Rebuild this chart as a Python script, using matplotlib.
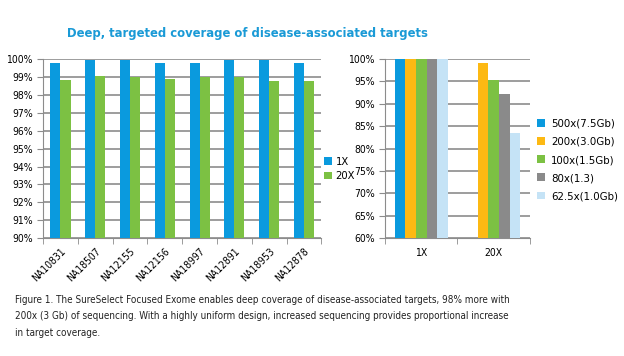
import numpy as np
import matplotlib.pyplot as plt
from matplotlib.ticker import FuncFormatter

plt.rcParams['font.family'] = ['DejaVu Sans']
plt.rcParams['font.stretch'] = 'condensed'

# left panel: per-sample coverage
samples = ['NA10831', 'NA18507', 'NA12155', 'NA12156', 'NA18997', 'NA12891', 'NA18953', 'NA12878']
cov_1x = [99.8, 99.95, 99.95, 99.8, 99.8, 99.95, 99.95, 99.8]
cov_20x = [98.85, 99.05, 99.0, 98.9, 99.0, 99.0, 98.75, 98.75]

# right panel: coverage by sequencing depth
depth_groups = ['1X', '20X']
depth_labels = ['500x(7.5Gb)', '200x(3.0Gb)', '100x(1.5Gb)', '80x(1.3)', '62.5x(1.0Gb)']
depth_vals = [
    [100.0, np.nan],
    [100.0, 99.2],
    [100.0, 95.3],
    [100.0, 92.2],
    [100.0, 83.5],
]

blue = '#0a9ade'
green = '#7cc143'
depth_colors = [blue, '#fdb913', green, '#8a8a8a', '#c5e3f6']
grid_c = '#8c8c8c'
pct = FuncFormatter(lambda v, p: f'{v:.0f}%')

fig = plt.figure(figsize=(6.24, 3.56), dpi=100)

fig.text(0.397, 0.905, 'Deep, targeted coverage of disease-associated targets',
         ha='center', va='center', color='#1a9ad6', fontsize=9.3, fontweight='bold')

# --- left chart ---
ax1 = fig.add_axes([0.069, 0.331, 0.446, 0.503])
x = np.arange(len(samples))
w = 0.29
ax1.bar(x - w / 2, cov_1x, w, color=blue, label='1X', zorder=3)
ax1.bar(x + w / 2, cov_20x, w, color=green, label='20X', zorder=3)
ax1.set_ylim(90, 100)
ax1.set_yticks(np.arange(90, 101, 1))
ax1.yaxis.set_major_formatter(pct)
ax1.set_xlim(-0.5, len(samples) - 0.5)
ax1.set_xticks(x)
ax1.set_xticklabels(samples, rotation=45, ha='right', rotation_mode='anchor', fontsize=7.5)
ax1.set_xticks(np.arange(-0.5, len(samples)), minor=True)
ax1.tick_params(axis='x', which='major', length=0, pad=6)
ax1.tick_params(axis='x', which='minor', length=4, color=grid_c)
ax1.tick_params(axis='y', length=4, color=grid_c, labelsize=7.5)
ax1.grid(axis='y', color=grid_c, linewidth=1.2, zorder=0)
for s in ['top', 'right']:
    ax1.spines[s].set_visible(False)
for s in ['left', 'bottom']:
    ax1.spines[s].set_color(grid_c)
ax1.legend(loc='center left', bbox_to_anchor=(0.995, 0.385), frameon=False, fontsize=8,
           handlelength=0.7, handleheight=0.7, handletextpad=0.3, labelspacing=0.4,
           borderaxespad=0)

# --- right chart ---
ax2 = fig.add_axes([0.617, 0.331, 0.232, 0.503])
gx = np.arange(len(depth_groups))
bw = 0.147
for i, (lab, vals) in enumerate(zip(depth_labels, depth_vals)):
    ax2.bar(gx + (i - 2) * bw, vals, bw, color=depth_colors[i], label=lab, zorder=3)
ax2.set_ylim(60, 100)
ax2.set_yticks(np.arange(60, 101, 5))
ax2.yaxis.set_major_formatter(pct)
ax2.set_xlim(-0.5, len(depth_groups) - 0.5)
ax2.set_xticks(gx)
ax2.set_xticklabels(depth_groups, fontsize=7.5)
ax2.set_xticks(np.arange(-0.5, len(depth_groups)), minor=True)
ax2.tick_params(axis='x', which='major', length=0, pad=7)
ax2.tick_params(axis='x', which='minor', length=4, color=grid_c)
ax2.tick_params(axis='y', length=4, color=grid_c, labelsize=7.5)
ax2.grid(axis='y', color=grid_c, linewidth=1.2, zorder=0)
for s in ['top', 'right']:
    ax2.spines[s].set_visible(False)
for s in ['left', 'bottom']:
    ax2.spines[s].set_color(grid_c)
ax2.legend(loc='center left', bbox_to_anchor=(1.02, 0.436), frameon=False, fontsize=8.2,
           handlelength=0.7, handleheight=0.7, handletextpad=0.5, labelspacing=0.72,
           borderaxespad=0)

caption = ('Figure 1. The SureSelect Focused Exome enables deep coverage of disease-associated targets, 98% more with\n'
           '200x (3 Gb) of sequencing. With a highly uniform design, increased sequencing provides proportional increase\n'
           'in target coverage.')
fig.text(0.024, 0.172, caption, ha='left', va='top', fontsize=7.15, color='#222222', linespacing=1.8)

fig.savefig('out.png', dpi=100)
